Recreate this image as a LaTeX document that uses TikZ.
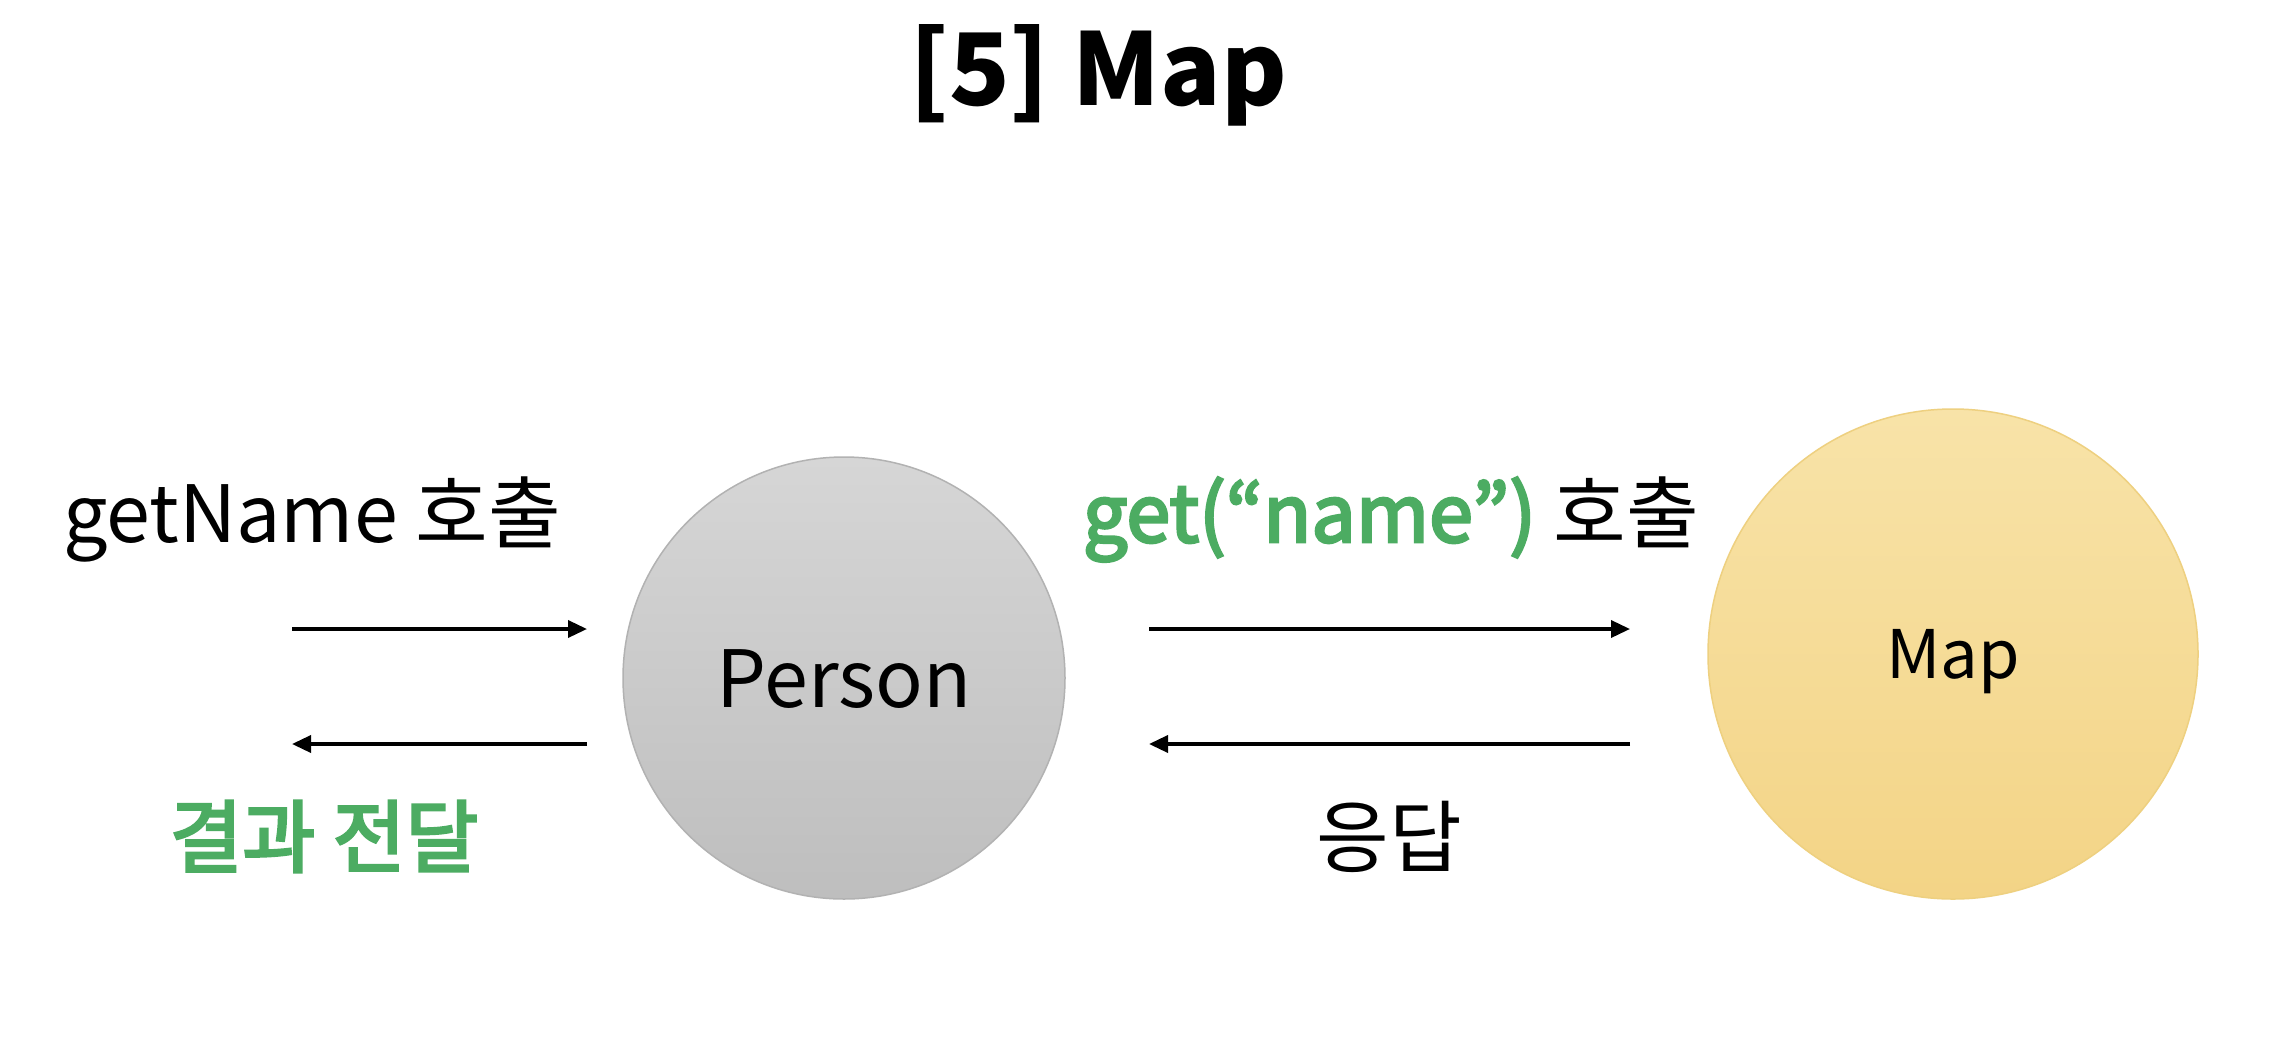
\documentclass[tikz,border=0pt]{standalone}
\usepackage{fontspec}
\setmainfont{Noto Sans CJK KR}
\newfontfamily\semibd[FakeBold=3.5]{Noto Sans CJK KR}
\usetikzlibrary{arrows.meta,shadings}
\definecolor{txtgreen}{RGB}{76,172,98}
\definecolor{pgtop}{RGB}{214,214,214}
\definecolor{pgbot}{RGB}{190,190,190}
\definecolor{pgline}{RGB}{178,178,178}
\definecolor{mytop}{RGB}{248,227,168}
\definecolor{mybot}{RGB}{243,212,134}
\definecolor{myline}{RGB}{238,208,128}
\tikzset{
  lbl/.style={anchor=base, inner sep=0pt, font=\fontsize{79}{86}\selectfont},
  conn/.style={line width=3.5pt, -{Triangle[length=19pt,width=17pt]}},
}
\begin{document}
\begin{tikzpicture}[x=1pt,y=1pt]
\useasboundingbox[fill=white] (0,0) rectangle (2278,-1050);
% title
\node[anchor=base, inner sep=0pt, font=\fontsize{100}{110}\selectfont\bfseries] (title) at (1098,-105) {[5] Map};
% circles
\node[circle, minimum size=442pt, inner sep=0pt, draw=pgline, line width=1.5pt, top color=pgtop, bottom color=pgbot] (person) at (844,-678) {};
\node[circle, minimum size=490pt, inner sep=0pt, draw=myline, line width=1.5pt, top color=mytop, bottom color=mybot] (map) at (1953,-654) {};
\node[lbl] (personlbl) at (844,-707) {Person};
\node[lbl, font=\fontsize{67}{74}\selectfont] (maplbl) at (1953,-678) {Map};
% labels
\node[lbl] (l1) at (312,-542) {getName 호출};
\node[lbl, text=txtgreen, font=\fontsize{79}{86}\semibd] (l2) at (324,-866) {결과 전달};
\node[lbl] (l3) at (1391,-542) {\textcolor{txtgreen}{\semibd get(“name”)} 호출};
\node[lbl] (l4) at (1389,-866) {응답};
% arrow ends
\coordinate (a1s) at (292,-629); \coordinate (a1e) at (587,-629);
\coordinate (a2s) at (587,-744); \coordinate (a2e) at (292,-744);
\coordinate (a3s) at (1149,-629); \coordinate (a3e) at (1630,-629);
\coordinate (a4s) at (1630,-744); \coordinate (a4e) at (1149,-744);
\draw[conn] (a1s) -- (a1e);
\draw[conn] (a2s) -- (a2e);
\draw[conn] (a3s) -- (a3e);
\draw[conn] (a4s) -- (a4e);
\end{tikzpicture}
\end{document}
